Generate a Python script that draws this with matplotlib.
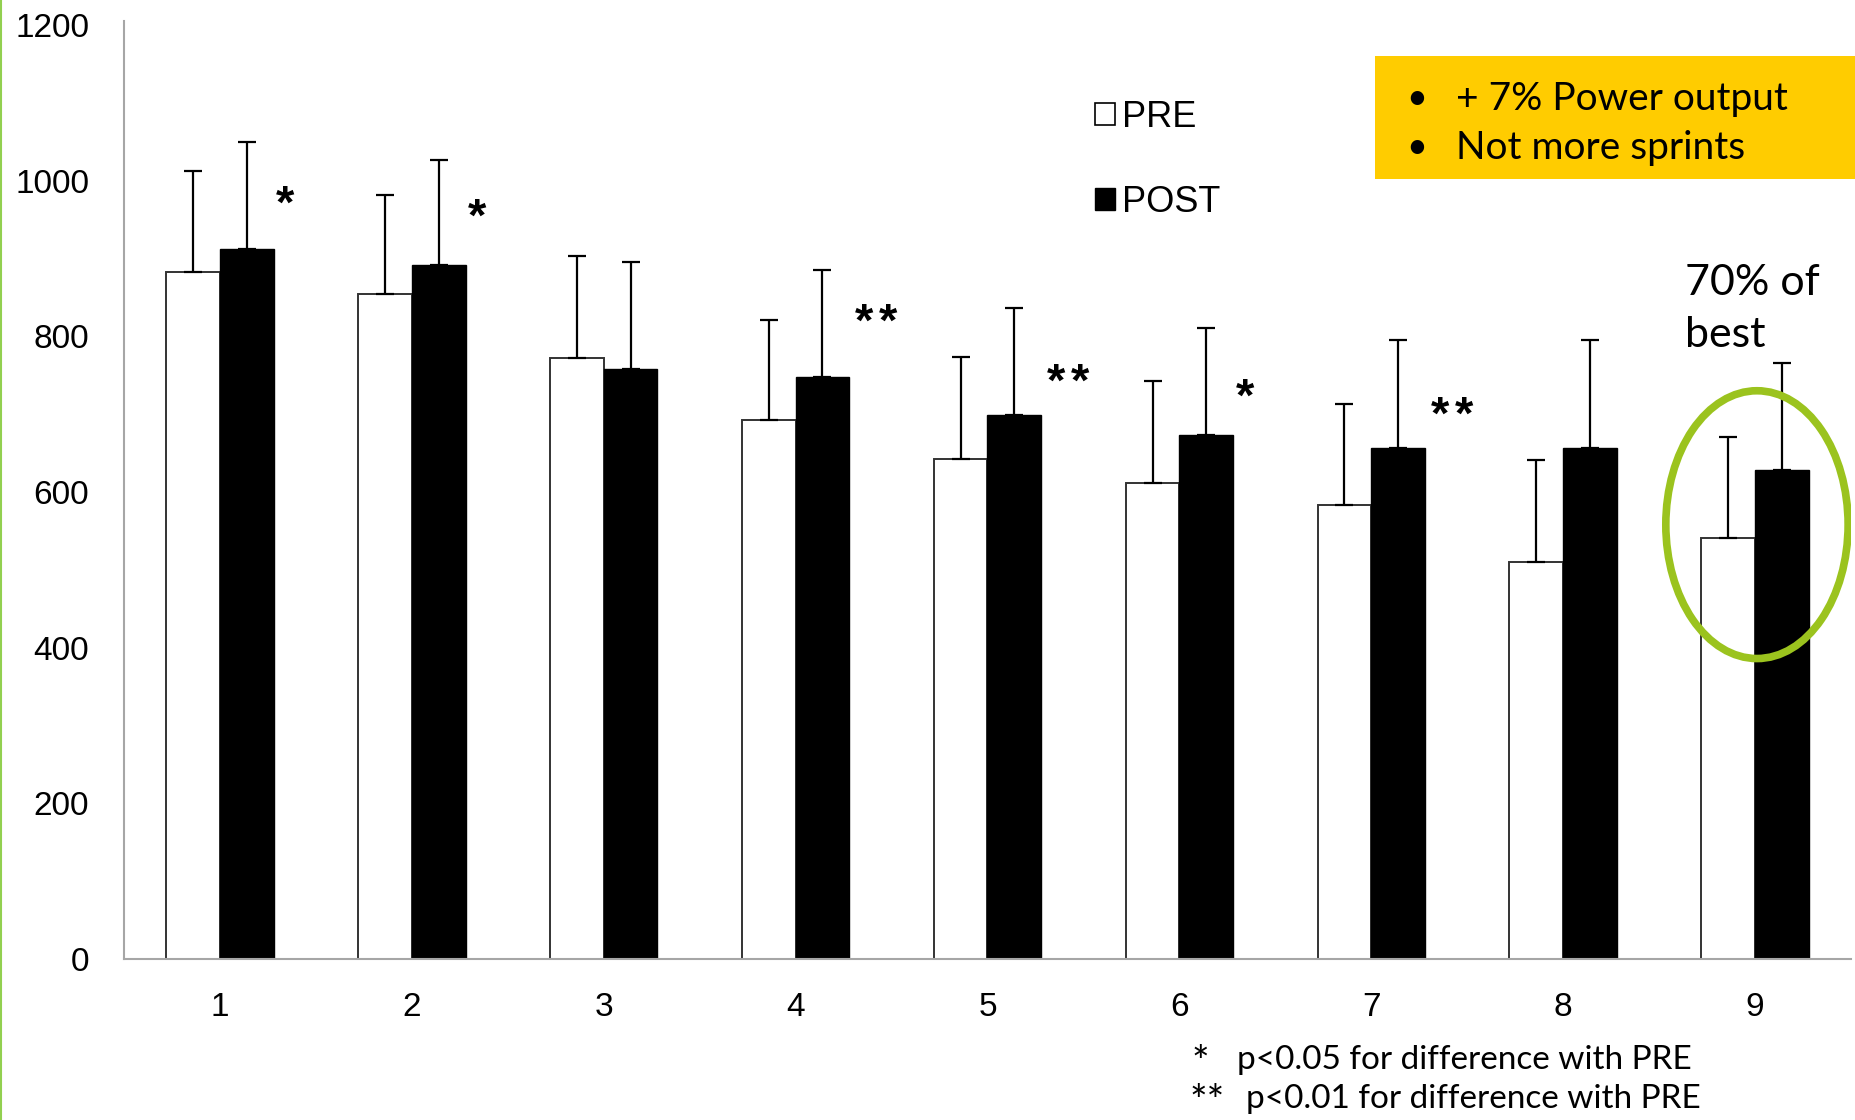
import matplotlib.pyplot as plt
import matplotlib.lines as mlines
import matplotlib.patches as mpatches
import numpy as np

# mean power per sprint (W), PRE vs POST, with SD (upper only)
sprints = [1, 2, 3, 4, 5, 6, 7, 8, 9]
pre = [883, 854, 772, 692, 642, 612, 583, 510, 541]
pre_sd = [129, 128, 131, 129, 131, 130, 130, 131, 130]
post = [912, 891, 758, 748, 699, 673, 657, 657, 628]
post_sd = [137, 136, 137, 137, 137, 138, 138, 138, 138]
stars = ['*', '*', '', '**', '**', '*', '**', '', '']
star_y = [968, 951, 0, 816, 739, 720, 697, 0, 0]
yticks = [0, 200, 400, 600, 800, 1000, 1200]

calibri = ['Lato', 'DejaVu Sans']
arial = ['Liberation Sans', 'DejaVu Sans']

fig = plt.figure(figsize=(18.56, 11.2), dpi=100)
ax = fig.add_axes([0.0668, 0.14375, 0.9305, 0.8375])

x = np.array(sprints)
w = 0.28
err_kw = dict(ecolor='black', elinewidth=1.6, capsize=6.5, capthick=1.6)
b1 = ax.bar(x - w / 2, pre, w, color='white', edgecolor='#333333', linewidth=1.4,
            yerr=[np.zeros(9), pre_sd], error_kw=err_kw, label='PRE')
b2 = ax.bar(x + w / 2, post, w, color='black', edgecolor='black', linewidth=1.0,
            yerr=[np.zeros(9), post_sd], error_kw=err_kw, label='POST')

# significance marks, one text per asterisk so the gap matches
for i in range(9):
    n = len(stars[i])
    if n == 0:
        continue
    xc = x[i] + (0.34 if n == 1 else 0.42)
    for k in range(n):
        ax.text(xc + (k - (n - 1) / 2) * 0.125, star_y[i], '*', ha='center', va='center',
                fontsize=34, fontfamily=arial, fontweight='bold')

# ellipse around sprint 9
ax.add_patch(mpatches.Ellipse((9.01, 558), 0.95, 344, fill=False,
                              edgecolor='#9BC31E', linewidth=5.5, zorder=5))
ax.text(8.635, 893, '70% of\nbest', ha='left', va='top', fontsize=31,
        fontfamily=calibri, linespacing=1.45)

ax.set_xlim(0.5, 9.5)
ax.set_ylim(0, 1205)
ax.set_yticks(yticks)
ax.set_xticks(x)
ax.tick_params(axis='both', length=0, labelsize=24)
ax.tick_params(axis='y', pad=25)
ax.tick_params(axis='x', pad=24)
for lab in ax.get_xticklabels() + ax.get_yticklabels():
    lab.set_fontfamily(arial)
ax.spines['top'].set_visible(False)
ax.spines['right'].set_visible(False)
ax.spines['left'].set_color('#a6a6a6')
ax.spines['bottom'].set_color('#a6a6a6')
ax.spines['left'].set_linewidth(1.5)
ax.spines['bottom'].set_linewidth(1.5)

leg = ax.legend(handles=[mpatches.Patch(facecolor='white', edgecolor='black', linewidth=1.2),
                         mpatches.Patch(facecolor='black', edgecolor='black')],
                labels=['PRE', 'POST'], loc='upper left', bbox_to_anchor=(0.590, 0.911),
                bbox_transform=fig.transFigure, frameon=False, borderpad=0,
                borderaxespad=0, handlelength=0.55, handleheight=0.55,
                handletextpad=0.2, labelspacing=1.38,
                prop={'family': arial, 'size': 26})

# yellow note box
fig.patches.append(mpatches.Rectangle((0.741, 0.840), 0.259, 0.110, transform=fig.transFigure,
                                      facecolor='#FFCC00', edgecolor='none'))
fig.text(0.7575, 0.912, '•', fontsize=26, fontfamily=calibri, va='center', ha='left')
fig.text(0.7845, 0.912, '+ 7% Power output', fontsize=28, fontfamily=calibri, va='center', ha='left')
fig.text(0.7575, 0.868, '•', fontsize=26, fontfamily=calibri, va='center', ha='left')
fig.text(0.7845, 0.868, 'Not more sprints', fontsize=28, fontfamily=calibri, va='center', ha='left')

# footnotes
fig.text(0.6465, 0.050, '*', fontsize=30, fontfamily=calibri, va='center', ha='center')
fig.text(0.6665, 0.054, 'p<0.05 for difference with PRE', fontsize=24, fontfamily=calibri,
         va='center', ha='left')
fig.text(0.6505, 0.015, '**', fontsize=30, fontfamily=calibri, va='center', ha='center')
fig.text(0.6713, 0.019, 'p<0.01 for difference with PRE', fontsize=24, fontfamily=calibri,
         va='center', ha='left')

# thin green line at the left edge
fig.lines.append(mlines.Line2D([0.0008, 0.0008], [0, 1], transform=fig.transFigure,
                               color='#92D050', linewidth=1.5))

fig.savefig('out.png', dpi=100)
